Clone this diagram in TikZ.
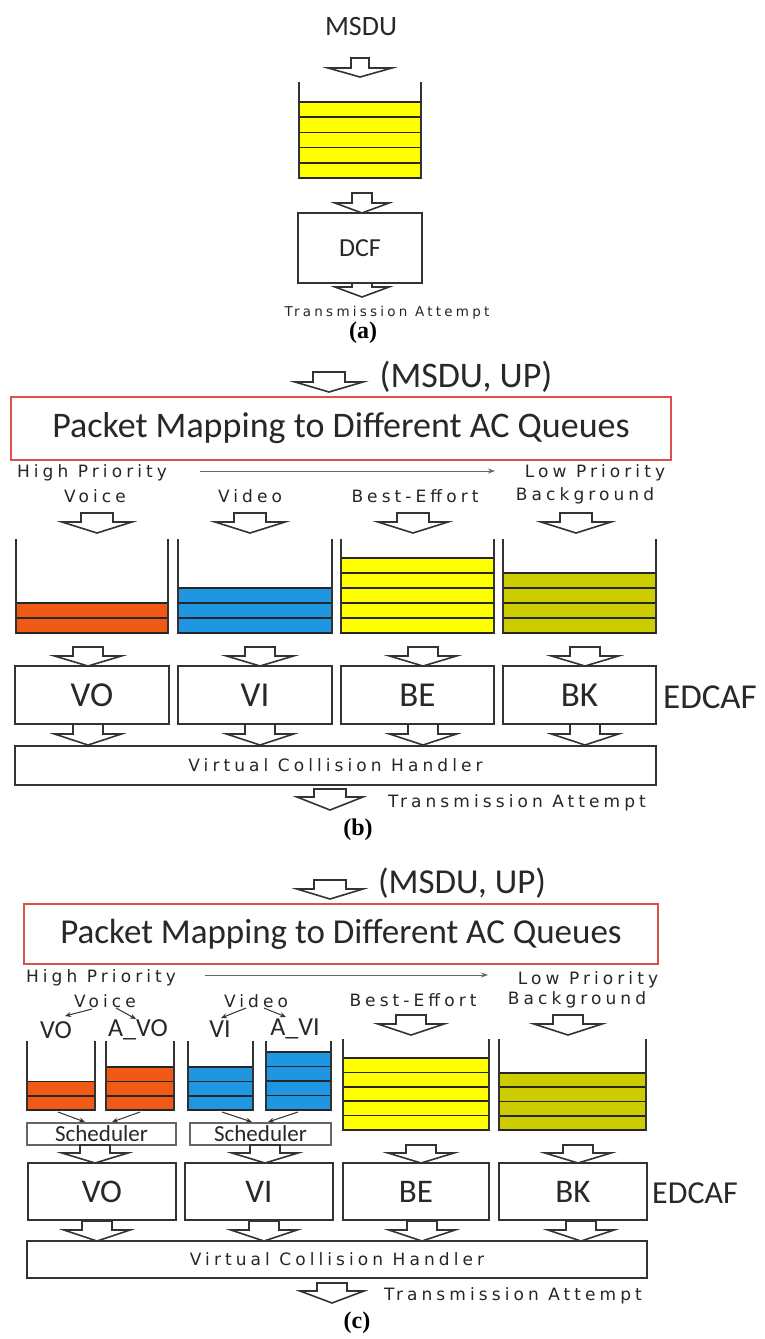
\documentclass[tikz,border=0pt]{standalone}
\usepackage{fontspec}
\setmainfont{Carlito}
\newfontfamily\calf{Carlito}
\newfontfamily\widef[LetterSpace=24]{DejaVu Sans}
\newfontfamily\serf{Liberation Serif}
\usetikzlibrary{arrows.meta}
\definecolor{qorange}{RGB}{240,90,20}
\definecolor{qblue}{RGB}{30,150,225}
\definecolor{qyellow}{RGB}{255,255,0}
\definecolor{qolive}{RGB}{204,204,0}
\definecolor{redline}{RGB}{222,80,80}
\definecolor{inkc}{RGB}{40,40,40}
\newcommand\fsz[1]{\fontsize{#1}{#1}\selectfont}
% block arrow: cx, ytop, shaft width, head width, shaft length, head length
\newcommand\blkarrow[6]{%
  \draw[blockarrow] ({#1-#3/2},#2) -- ({#1+#3/2},#2) -- ({#1+#3/2},{#2+#5}) -- ({#1+#4/2},{#2+#5}) -- (#1,{#2+#5+#6}) -- ({#1-#4/2},{#2+#5}) -- ({#1-#3/2},{#2+#5}) -- cycle;}
% queue: xl, xr, ywall top, ybottom, n slots, slot height, colour
\newcommand\qstack[7]{%
  \foreach \k in {1,...,#5} {\draw[slot, fill=#7] (#1,{#4-(\k-1)*#6}) rectangle (#2,{#4-\k*#6});}
  \draw[wall] (#1,#3) -- (#1,#4);
  \draw[wall] (#2,#3) -- (#2,#4);}
\begin{document}
\begin{tikzpicture}[x=1pt,y=-1pt,
  box/.style={draw=black!80, line width=1.9pt, inner sep=0pt, fill=white, text=inkc},
  schedbox/.style={draw=black!60, line width=1.3pt, inner sep=0pt, fill=white, text=inkc},
  redbox/.style={draw=redline, line width=1.6pt, inner sep=0pt, fill=white, text=inkc},
  slot/.style={draw=black!85, line width=1.6pt},
  wall/.style={draw=black!80, line width=2pt},
  blockarrow/.style={draw=black!80, line width=1.6pt, fill=white, line join=miter},
  wtext/.style={inner sep=0pt, text=black!85, font=\widef\fsz{17}},
  ctext/.style={inner sep=0pt, text=inkc},
  lab/.style={inner sep=0pt, font=\serf\bfseries\fsz{24}},
  prio/.style={draw=black!60, line width=1pt, -{Stealth[length=7pt,width=5pt]}},
  sarrow/.style={draw=black!80, line width=1pt, -{Stealth[length=6pt,width=5pt]}}
]
\useasboundingbox (0,0) rectangle (764,1339);
\fill[white] (0,0) rectangle (764,1339);

% ================= (a) =================
\node[ctext, font=\calf\fsz{28}] (msdua) at (361,27) {MSDU};
\blkarrow{360}{58}{18}{64}{10}{9}
\qstack{299}{421}{82}{178}{5}{15.2}{qyellow}
\blkarrow{362}{193}{20}{54}{10}{10}
\node[box, minimum width=124, minimum height=70, font=\calf\fsz{26}] (dcf) at (360,248) {DCF};
\blkarrow{362}{283}{20}{54}{4}{10}
\node[wtext, font=\widef\fsz{13.5}] (taa) at (387,313) {Transmission Attempt};
\node[lab] (laba) at (363,333) {(a)};

% ================= (b) =================
\blkarrow{329}{372}{32}{68}{10}{10}
\node[ctext, font=\calf\fsz{36}] (msdub) at (466,377) {(MSDU, UP)};
\node[redbox, minimum width=660, minimum height=63, font=\calf\fsz{36}] (mapb) at (341,428.5) {Packet Mapping to Different AC Queues};
\node[wtext] (hpb) at (92,473) {High Priority};
\node[wtext] (lpb) at (595,473) {Low Priority};
\coordinate (pb1) at (200,471);
\coordinate (pb2) at (495,471);
\draw[prio] (pb1) -- (pb2);
\node[wtext] (voiceb) at (95,496) {Voice};
\node[wtext] (videob) at (250,496) {Video};
\node[wtext] (beb) at (415,496) {Best-Effort};
\node[wtext] (bkgb) at (585,496) {Background};
\blkarrow{97}{513}{32}{70}{9}{11}
\blkarrow{250}{513}{32}{70}{9}{11}
\blkarrow{413}{513}{32}{70}{9}{11}
\blkarrow{576}{513}{32}{70}{9}{11}
\qstack{16}{168}{539}{633}{2}{15}{qorange}
\qstack{178}{332}{539}{633}{3}{15}{qblue}
\qstack{341}{494}{539}{633}{5}{15}{qyellow}
\qstack{503}{656}{539}{633}{4}{15}{qolive}
\blkarrow{88}{647}{30}{67}{9}{10}
\blkarrow{260}{647}{30}{67}{9}{10}
\blkarrow{423}{647}{30}{67}{9}{10}
\blkarrow{585}{647}{30}{67}{9}{10}
\node[box, minimum width=154, minimum height=58, font=\calf\fsz{35}] (vob) at (92,695) {VO};
\node[box, minimum width=154, minimum height=58, font=\calf\fsz{35}] (vib) at (255,695) {VI};
\node[box, minimum width=153, minimum height=58, font=\calf\fsz{35}] (beboxb) at (417.5,695) {BE};
\node[box, minimum width=153, minimum height=58, font=\calf\fsz{35}] (bkb) at (579.5,695) {BK};
\node[ctext, anchor=west, font=\calf\fsz{35}] (edcafb) at (663,697) {EDCAF};
\blkarrow{88}{724}{30}{67}{10}{11}
\blkarrow{260}{724}{30}{67}{10}{11}
\blkarrow{423}{724}{30}{67}{10}{11}
\blkarrow{585}{724}{30}{67}{10}{11}
\node[box, minimum width=641, minimum height=39, font=\widef\fsz{17}, text=black!85] (vchb) at (335.5,765.5) {Virtual Collision Handler};
\blkarrow{330}{789}{32}{66}{8}{13}
\node[wtext] (tab) at (517,803) {Transmission Attempt};
\node[lab] (labb) at (358,830) {(b)};

% ================= (c) =================
\blkarrow{330}{880}{32}{66}{9}{10}
\node[ctext, font=\calf\fsz{35}] (msduc) at (462,883) {(MSDU, UP)};
\node[redbox, minimum width=634, minimum height=60, font=\calf\fsz{35}] (mapc) at (341,934) {Packet Mapping to Different AC Queues};
\node[wtext] (hpc) at (101,978) {High Priority};
\node[wtext] (lpc) at (588,980) {Low Priority};
\coordinate (pc1) at (205,975);
\coordinate (pc2) at (488,975);
\draw[prio] (pc1) -- (pc2);
\node[wtext] (voicec) at (105,1001) {Voice};
\node[wtext] (videoc) at (256,1001) {Video};
\node[wtext] (bec) at (413,1000) {Best-Effort};
\node[wtext] (bkgc) at (577,1000) {Background};
\node[ctext, font=\calf\fsz{26}] (lvo) at (56,1030) {VO};
\node[ctext, font=\calf\fsz{26}] (lavo) at (138,1030) {A\_VO};
\node[ctext, font=\calf\fsz{26}] (lvi) at (220,1029) {VI};
\node[ctext, font=\calf\fsz{26}] (lavi) at (295,1029) {A\_VI};
\coordinate (va1) at (92,1009);  \coordinate (va2) at (65,1016);
\coordinate (vb1) at (116,1008); \coordinate (vb2) at (136,1019);
\coordinate (da1) at (246,1008); \coordinate (da2) at (221,1018);
\coordinate (db1) at (264,1008); \coordinate (db2) at (286,1017);
\draw[sarrow] (va1) -- (va2);
\draw[sarrow] (vb1) -- (vb2);
\draw[sarrow] (da1) -- (da2);
\draw[sarrow] (db1) -- (db2);
\blkarrow{411}{1015}{30}{66}{9}{11}
\blkarrow{568}{1015}{30}{68}{9}{11}
\qstack{27}{95}{1041}{1110}{2}{14.3}{qorange}
\qstack{106}{174}{1041}{1110}{3}{14.3}{qorange}
\qstack{188}{253}{1041}{1110}{3}{14.3}{qblue}
\qstack{266}{331}{1041}{1110}{4}{14.5}{qblue}
\qstack{343}{489}{1039}{1130}{5}{14.4}{qyellow}
\qstack{499}{646}{1039}{1130}{4}{14.3}{qolive}
\node[schedbox, minimum width=149, minimum height=22, font=\calf\fsz{23}] (sch1) at (101.5,1134) {Scheduler};
\node[schedbox, minimum width=141, minimum height=22, font=\calf\fsz{23}] (sch2) at (260.5,1134) {Scheduler};
\coordinate (s1a) at (58,1112);  \coordinate (s1b) at (85,1122);
\coordinate (s1c) at (140,1112); \coordinate (s1d) at (112,1122);
\coordinate (s2a) at (222,1112); \coordinate (s2b) at (252,1122);
\coordinate (s2c) at (298,1112); \coordinate (s2d) at (268,1122);
\draw[sarrow] (s1a) -- (s1b);
\draw[sarrow] (s1c) -- (s1d);
\draw[sarrow] (s2a) -- (s2b);
\draw[sarrow] (s2c) -- (s2d);
\blkarrow{95}{1145}{30}{66}{8}{10}
\blkarrow{265}{1145}{30}{66}{8}{10}
\blkarrow{421}{1145}{30}{66}{8}{10}
\blkarrow{578}{1145}{30}{66}{8}{10}
\node[box, minimum width=148, minimum height=57, font=\calf\fsz{33}] (voc) at (102,1191.5) {VO};
\node[box, minimum width=148, minimum height=57, font=\calf\fsz{33}] (vic) at (259,1191.5) {VI};
\node[box, minimum width=146, minimum height=57, font=\calf\fsz{33}] (beboxc) at (416,1191.5) {BE};
\node[box, minimum width=148, minimum height=57, font=\calf\fsz{33}] (bkc) at (573,1191.5) {BK};
\node[ctext, anchor=west, font=\calf\fsz{32}] (edcafc) at (652,1193) {EDCAF};
\blkarrow{97}{1221}{30}{66}{9}{11}
\blkarrow{264}{1221}{30}{66}{9}{11}
\blkarrow{422}{1221}{30}{66}{9}{11}
\blkarrow{581}{1221}{30}{66}{9}{11}
\node[box, minimum width=620, minimum height=37, font=\widef\fsz{17}, text=black!85] (vchc) at (337,1259.5) {Virtual Collision Handler};
\blkarrow{332}{1283}{30}{64}{8}{12}
\node[wtext] (tac) at (513,1296) {Transmission Attempt};
\node[lab] (labc) at (357,1323) {(c)};
\end{tikzpicture}
\end{document}
